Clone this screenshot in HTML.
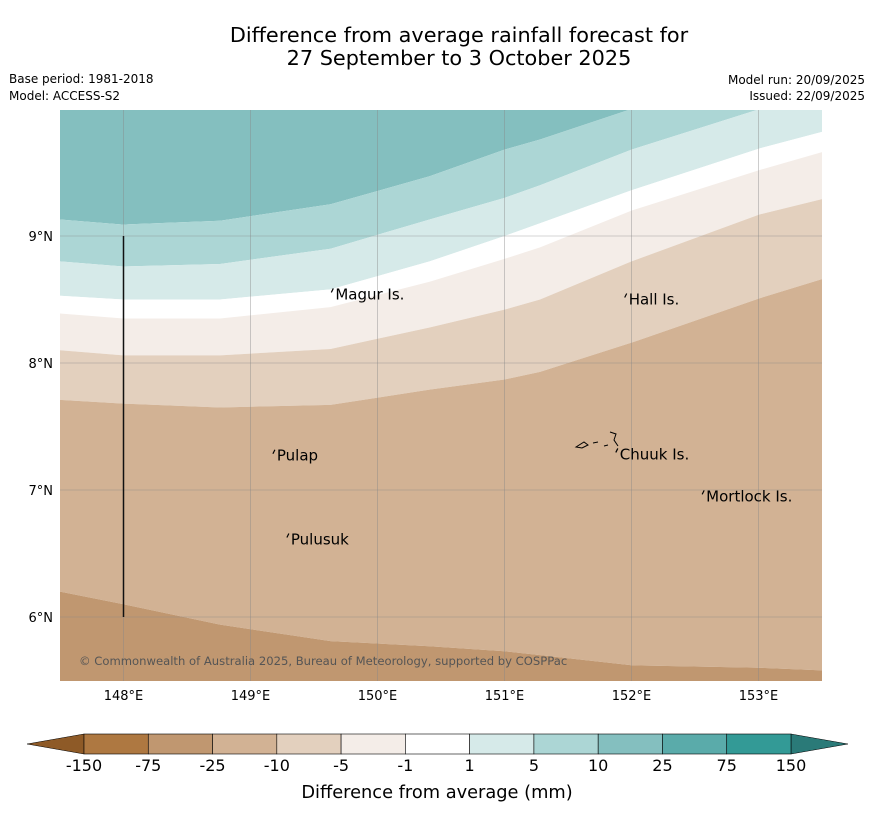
<!DOCTYPE html>
<html><head><meta charset="utf-8"><style>
body{margin:0;background:#fff;width:873px;height:816px;overflow:hidden;font-family:"Liberation Sans","DejaVu Sans",sans-serif}
</style></head><body>
<svg id="c" width="873" height="816" xmlns="http://www.w3.org/2000/svg" font-family="DejaVu Sans, Liberation Sans, sans-serif">
<text x="459" y="42" text-anchor="middle" font-size="20.8">Difference from average rainfall forecast for</text>
<text x="459" y="65" text-anchor="middle" font-size="20.8">27 September to 3 October 2025</text>
<text x="9" y="83" font-size="12">Base period: 1981-2018</text>
<text x="9" y="100" font-size="12">Model: ACCESS-S2</text>
<text x="865" y="84" font-size="12" text-anchor="end">Model run: 20/09/2025</text>
<text x="865" y="100" font-size="12" text-anchor="end">Issued: 22/09/2025</text>
<g id="map"></g>
<g id="cb"></g>
<text x="437" y="798" text-anchor="middle" font-size="17.8">Difference from average (mm)</text>
</svg>
<script>
const lonTicks=[148,149,150,151,152,153];
const latTicks=[6,7,8,9];
const boundaryLons=[147.5,148.0,148.76,149.63,150.41,151.0,151.28,152.0,153.01,153.5];
// latitude of each contour boundary at boundaryLons
const b25=[9.13,9.09,9.12,9.25,9.47,9.68,9.76,10.0,10.3,10.4];
const b10=[8.80,8.76,8.78,8.90,9.13,9.30,9.40,9.68,10.0,10.1];
const b5=[8.53,8.50,8.50,8.58,8.80,9.0,9.10,9.36,9.69,9.82];
const b1=[8.39,8.35,8.35,8.44,8.64,8.82,8.91,9.20,9.52,9.66];
const bm1=[8.10,8.06,8.06,8.11,8.28,8.42,8.50,8.80,9.17,9.29];
const bm5=[7.71,7.68,7.65,7.67,7.79,7.87,7.93,8.16,8.51,8.66];
const bm10=[6.20,6.10,5.94,5.81,5.77,5.73,5.70,5.62,5.60,5.58];
const bandColors=["#84bfbf","#acd6d5","#d6eae9","#ffffff","#f4ede8","#e3d0be","#d2b294","#c09770"];
const places=["Magur Is.","Hall Is.","Pulap","Chuuk Is.","Mortlock Is.","Pulusuk"];
const placeLon=[149.66,151.97,149.2,151.9,152.58,149.31];
const placeLat=[8.54,8.50,7.27,7.28,6.95,6.61];
const cbLabels=["-150","-75","-25","-10","-5","-1","1","5","10","25","75","150"];
const cbColors=["#ae7841","#c09770","#d2b294","#e3d0be","#f4ede8","#ffffff","#d6eae9","#acd6d5","#84bfbf","#5aabaa","#339a96"];
const NS="http://www.w3.org/2000/svg";
const X0=60,X1=822,Y0=110,Y1=681;
const xs=lon=>X0+(lon-147.5)*127;
const ys=lat=>236-(lat-9)*127;
function mk(t,a,p){const e=document.createElementNS(NS,t);for(const k in a)e.setAttribute(k,a[k]);p.appendChild(e);return e;}
const map=document.getElementById('map');
const clip=mk('clipPath',{id:'mc'},map);mk('rect',{x:X0,y:Y0,width:X1-X0,height:Y1-Y0},clip);
const g=mk('g',{'clip-path':'url(#mc)'},map);
const bounds=[[10.5,10.5,10.5,10.5,10.5,10.5,10.5,10.5,10.5,10.5],b25,b10,b5,b1,bm1,bm5,bm10,[5,5,5,5,5,5,5,5,5,5]];
for(let i=0;i<8;i++){
 const top=bounds[i],bot=bounds[i+1];
 let pts=boundaryLons.map((l,j)=>xs(l)+','+ys(top[j]));
 pts=pts.concat(boundaryLons.map((l,j)=>xs(l)+','+ys(bot[j])).reverse());
 const p=mk('polygon',{points:pts.join(' '),fill:bandColors[i]},g);
 
 
}
lonTicks.forEach(l=>{const x=xs(l);
 const ln=mk('line',{x1:x,x2:x,y1:Y0,y2:Y1,stroke:'#888','stroke-width':0.6,'stroke-opacity':0.7},g);
 
 const t=mk('text',{x:x,y:700,'text-anchor':'middle','font-size':13},map);t.textContent=l+'°E';
 });
latTicks.forEach(l=>{const y=ys(l);
 const ln=mk('line',{x1:X0,x2:X1,y1:y,y2:y,stroke:'#888','stroke-width':0.6,'stroke-opacity':0.7},g);
 
 const t=mk('text',{x:53,y:y+5,'text-anchor':'end','font-size':13},map);t.textContent=l+'°N';
 });
const bl=mk('line',{x1:xs(148),x2:xs(148),y1:ys(9),y2:ys(6),stroke:'#111','stroke-width':1.5},g);

places.forEach((n,i)=>{const x=xs(placeLon[i]),y=ys(placeLat[i]);
 const d=mk('path',{d:`M${x-1},${y-6} l-2,4`,stroke:'#000','stroke-width':1.2,fill:'none'},g);
 
 const t=mk('text',{x:x+1,y:y+5,'font-size':15},g);t.textContent=n;
 });
const ch=mk('path',{d:'M576,447 l8,-5 l4,3 l-6,3z M593,443 l5,-1 M604,446 l4,-1 M610,432 l6,2 l-2,6 l4,6',stroke:'#000','stroke-width':1,fill:'none'},g);

const cp=mk('text',{x:79,y:665,'font-size':11.6,fill:'#555'},g);cp.textContent='© Commonwealth of Australia 2025, Bureau of Meteorology, supported by COSPPac';

const cb=document.getElementById('cb');
const CX0=84,CX1=791,CY=734,CH=20,w=(CX1-CX0)/11;
const lt=mk('polygon',{points:`${CX0},${CY} 27,${CY+CH/2} ${CX0},${CY+CH}`,fill:'#8e5a27',stroke:'#000','stroke-width':0.5},cb);

const rt=mk('polygon',{points:`${CX1},${CY} 848,${CY+CH/2} ${CX1},${CY+CH}`,fill:'#2a7a78',stroke:'#000','stroke-width':0.5},cb);

cbColors.forEach((c,i)=>{const r=mk('rect',{x:CX0+i*w,y:CY,width:w,height:CH,fill:c,stroke:'#000','stroke-width':0.6},cb);
 });
cbLabels.forEach((l,i)=>{const t=mk('text',{x:CX0+i*w,y:771,'text-anchor':'middle','font-size':16},cb);t.textContent=l;
 });
</script>
</body></html>
